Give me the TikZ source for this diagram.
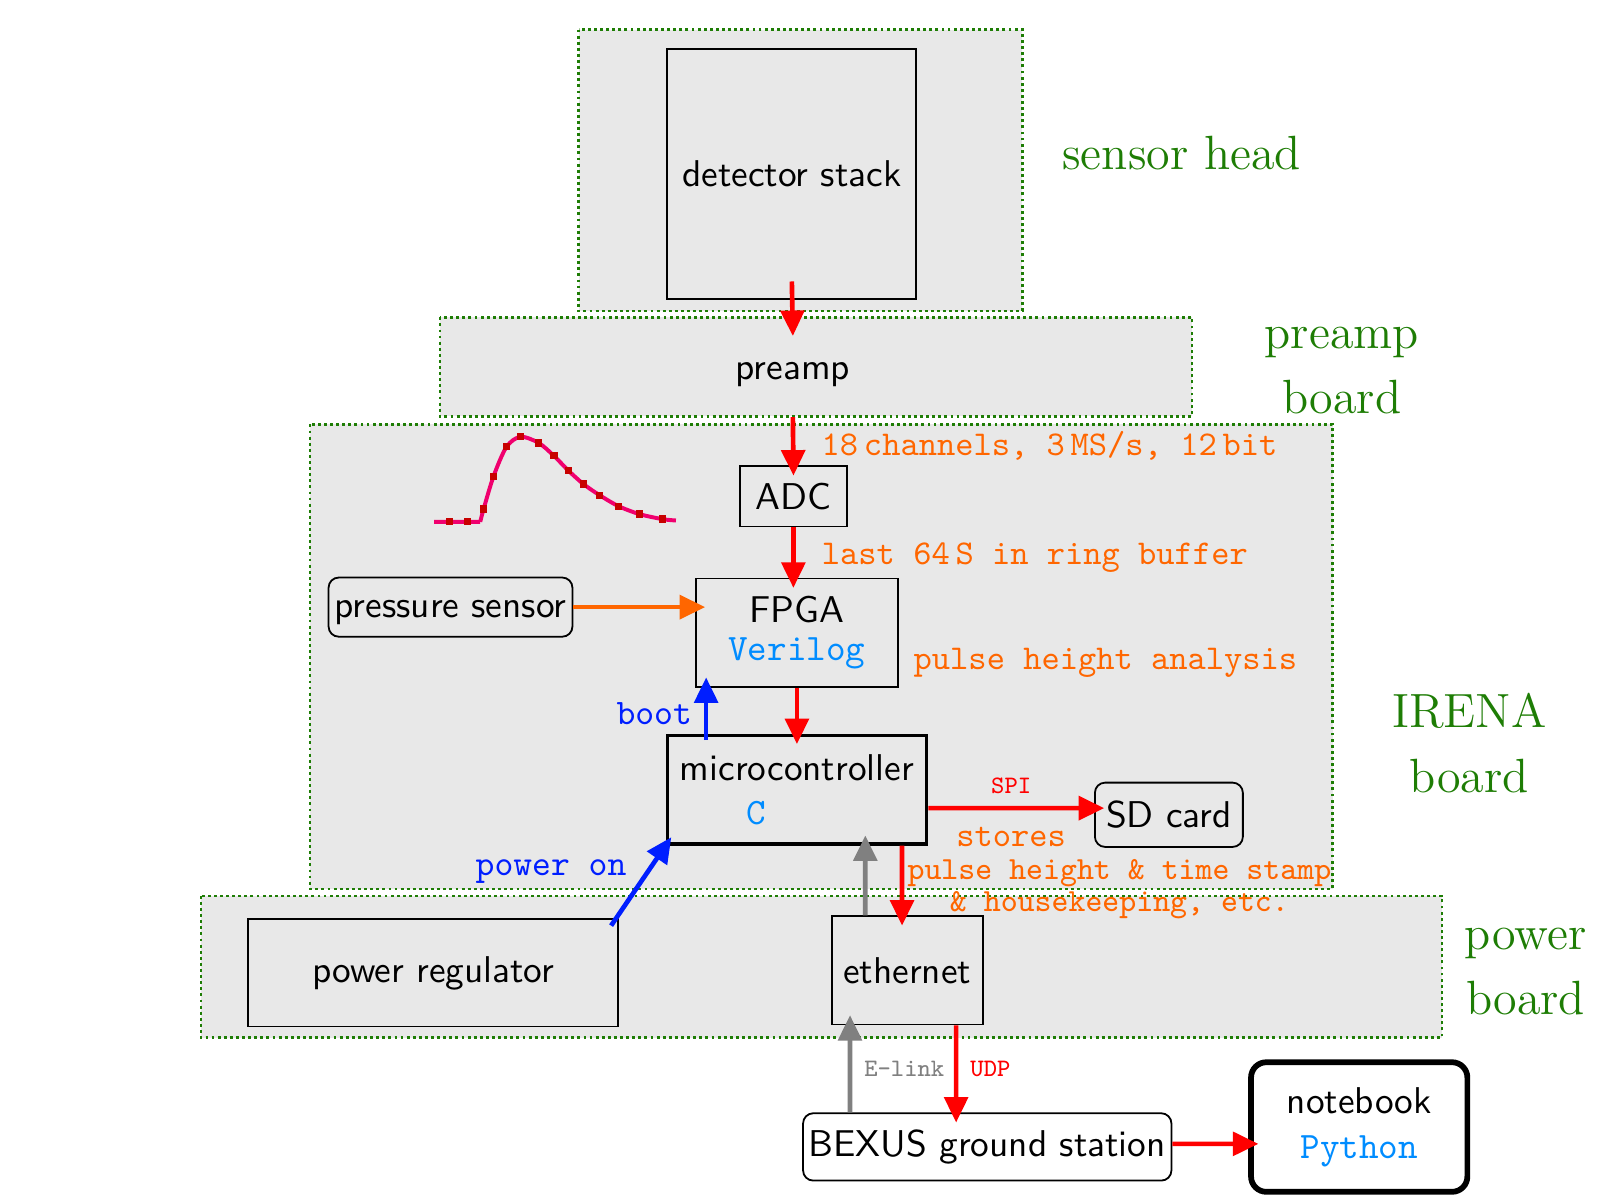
\documentclass[tikz,border=0pt]{standalone}
\usepackage{amsmath}
\usepackage{amssymb}
\usepackage{tikz}
\usetikzlibrary{arrows.meta}

\definecolor{boardgreen}{RGB}{30,125,5}
\definecolor{noteorange}{RGB}{255,102,0}
\definecolor{codeblue}{RGB}{0,140,255}
\definecolor{bootblue}{RGB}{0,30,255}
\definecolor{pulsepink}{RGB}{240,0,110}
\definecolor{pulsered}{RGB}{200,0,0}

\begin{document}
\begin{tikzpicture}[
  board/.style={draw=boardgreen, line width=0.7pt, dash pattern=on 0.8pt off 0.9pt, fill=black!9},
  boardname/.style={boardgreen, font=\fontsize{13.4}{18}\selectfont, align=center},
  unit/.style={draw, line width=0.5pt, font=\fontsize{10.4}{12.5}\sffamily, align=center, inner sep=1pt},
  sig/.style={-{Triangle[length=2.5mm,width=2.3mm]}, line width=1.3pt, red, shorten >=-1mm},
  note/.style={noteorange, font=\fontsize{9.7}{11.5}\ttfamily},
  notelabel/.style={note, midway, right, xshift=1.4mm, yshift=-.5mm},
]
\useasboundingbox (0,0) rectangle (15.68,11.76);

% boards
\draw [board] (5.67,11.47) rectangle (10.02,8.71);
\draw [board] (4.31,8.65) rectangle (11.68,7.68);
\draw [board] (3.04,7.60) rectangle (13.06,3.05);
\draw [board] (1.97,2.98) rectangle (14.13,1.59);
\node [boardname] (headname) at (11.58,10.26) {sensor head};
\node [boardname] (prename) at (13.15,8.13) {preamp\\board};
\node [boardname] (irenaname) at (14.40,4.48) {IRENA\\board};
\node [boardname] (powername) at (14.95,2.24) {power\\board};

% pulse
\draw [pulsepink, line width=1.1pt] (4.255,6.646) -- (4.706,6.646) plot[smooth] coordinates {(4.706,6.646) (4.739,6.77) (4.837,7.093) (4.964,7.381) (5.101,7.479) (5.278,7.42) (5.428,7.293) (5.572,7.146) (5.719,7.015) (5.876,6.907) (6.062,6.799) (6.268,6.721) (6.493,6.672) (6.624,6.659)};
\foreach \p in {(4.405,6.646),(4.582,6.646),(4.739,6.77),(4.837,7.093),(4.964,7.381),(5.101,7.479),(5.278,7.42),(5.428,7.293),(5.572,7.146),(5.719,7.015),(5.876,6.907),(6.062,6.799),(6.268,6.721),(6.493,6.672)}
  \fill [pulsered] \p +(-0.036,-0.036) rectangle +(0.036,0.036);

% units
\node [unit, minimum width=2.44cm, minimum height=2.45cm] (det) at (7.76,10.055) {detector stack};
\node [font=\fontsize{10.4}{12.5}\sffamily, text height=1.8ex, minimum height=0.64cm] (pre) at (7.77,8.14) {preamp};
\node [unit, minimum width=1.05cm, minimum height=0.59cm] (adc) at (7.775,6.895) {ADC};
\node [unit, minimum width=1.98cm, minimum height=1.06cm] (fpga) at (7.81,5.56) {FPGA\\[-.6mm]\textcolor{codeblue}{\ttfamily Verilog}};
\node [unit, rounded corners=1mm, text height=1.8ex, minimum width=2.39cm, minimum height=0.58cm] (press) at (4.415,5.81) {pressure sensor};
\node [unit, line width=1pt, minimum width=2.54cm, minimum height=1.06cm] (micro) at (7.81,4.02) {microcontroller\\\textcolor{codeblue}{\ttfamily C}\hspace*{8mm}};
\node [unit, rounded corners=1mm, minimum width=1.45cm, minimum height=0.63cm] (sd) at (11.455,3.775) {SD card};
\node [unit, minimum width=1.48cm, minimum height=1.06cm] (eth) at (8.89,2.25) {ethernet};
\node [unit, minimum width=3.63cm, minimum height=1.05cm] (preg) at (4.245,2.225) {power regulator};
\node [unit, rounded corners=1mm, minimum width=3.61cm, minimum height=0.66cm] (bexus) at (9.675,0.52) {BEXUS ground station};
\node [unit, rounded corners=1.5mm, line width=1.6pt, minimum width=2.12cm, minimum height=1.27cm] (nb) at (13.32,0.715) {notebook\\\textcolor{codeblue}{\ttfamily Python}};

% signals
\draw [sig, shorten >=0pt] ([yshift=1.8mm]det.south) -- (pre.north);
\draw [sig] ([yshift=-1.4mm]pre.south) -- (adc.north) node [notelabel] {18\,channels, 3\,MS/s, 12\,bit};
\draw [sig] (adc.south) -- (adc.south |- fpga.north) node [notelabel] {last 64\,S in ring buffer};
\draw [sig, noteorange] (press.east) -- (press.east -| fpga.west);
\node [note, anchor=west] (pha) at (8.83,5.26) {pulse height analysis};
\draw [sig] (fpga.south) -- (micro.north);
\draw [sig, bootblue] ([xshift=-8.9mm,yshift=-.6mm]micro.north) -- ([xshift=-8.9mm]fpga.south) node [midway, left, font=\ttfamily] {boot};
\draw [sig] ([yshift=-1.8mm]micro.east) -- ([yshift=.65mm]sd.west) node [midway, above, font=\ttfamily\scriptsize] {SPI} node [note, midway, below, yshift=-.5mm] {stores};
\node [note, font=\ttfamily\small, align=center] (storetext) at (10.97,3.045) {pulse height \& time stamp\\[-.8mm]\& housekeeping, etc.};
\draw [sig] ([xshift=10.3mm]micro.south) -- ([xshift=-.5mm]eth.north);
\draw [sig, gray] ([xshift=-4.1mm]eth.north) -- ([xshift=6.7mm]micro.south);
\draw [sig, bootblue] ([shift={(-.8mm,-.7mm)}]preg.north east) -- (micro.south west);
\node [bootblue, font=\ttfamily] (poweron) at (5.40,3.22) {power on};
\draw [sig, gray] ([xshift=-13.45mm]bexus.north) -- ([xshift=-5.6mm]eth.south) node [midway, right, font=\ttfamily\scriptsize] {E-link};
\draw [sig] ([xshift=4.8mm]eth.south) -- ([xshift=-3.05mm]bexus.north) node [midway, right, font=\ttfamily\scriptsize] {UDP};
\draw [sig] ([yshift=.3mm]bexus.east) -- ([yshift=-1.65mm]nb.west);
\end{tikzpicture}
\end{document}
